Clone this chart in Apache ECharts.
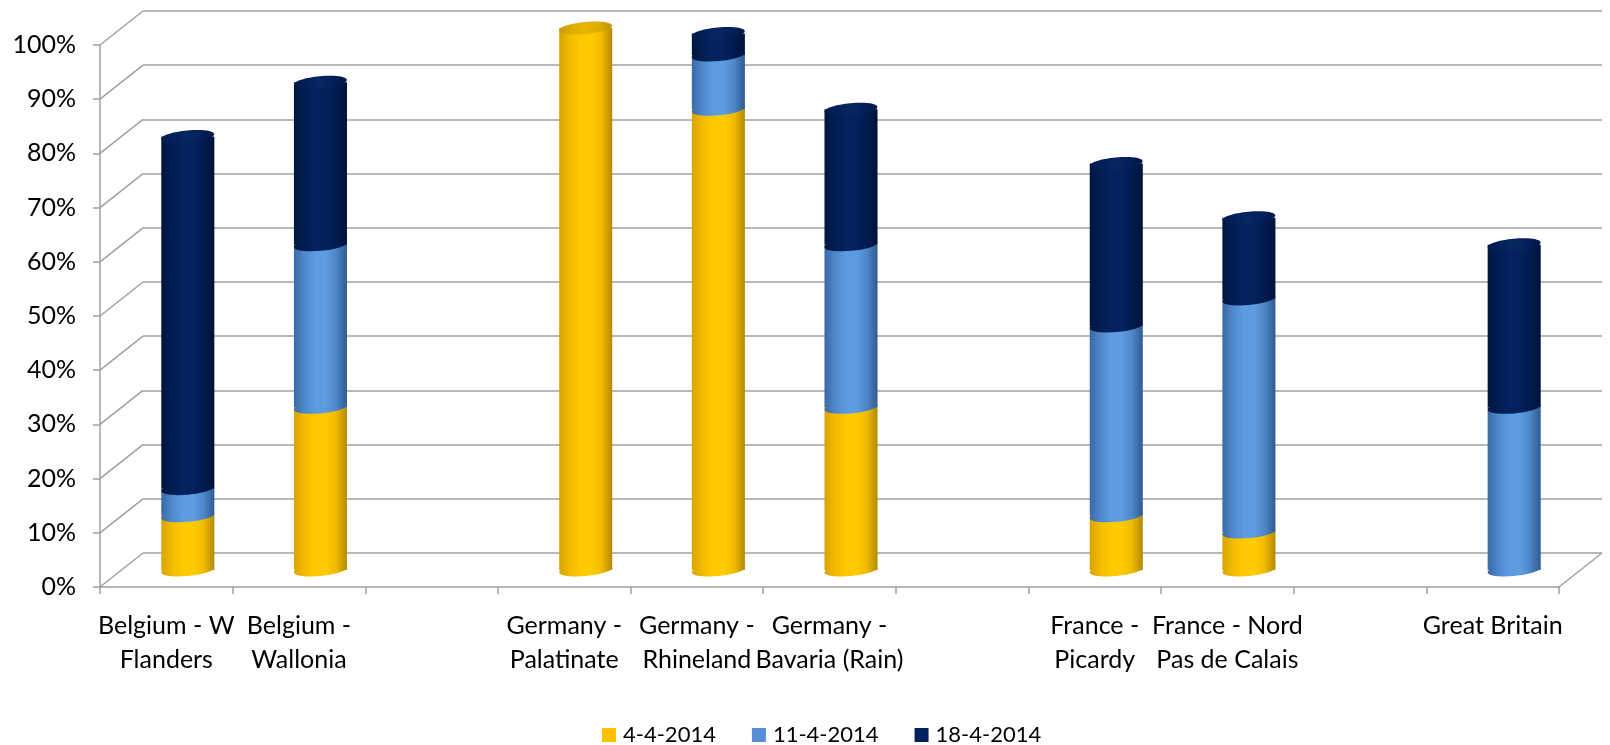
<!DOCTYPE html>
<html>
<head>
<meta charset="utf-8">
<script src="https://cdn.jsdelivr.net/npm/echarts@6/dist/echarts.min.js"></script>
<style>
  html, body { margin: 0; padding: 0; background: #fff; }
  #chart { width: 1610px; height: 745px; }
</style>
</head>
<body>
<div id="chart"></div>
<script>
// categories (empty slots are gaps between countries)
var categories = [
    'Belgium - W\nFlanders', 'Belgium -\nWallonia', '',
    'Germany -\nPalatinate', 'Germany -\nRhineland', 'Germany -\nBavaria (Rain)', '',
    'France -\nPicardy', 'France - Nord\nPas de Calais', '',
    'Great Britain'
];
var seriesNames = ['4-4-2014', '11-4-2014', '18-4-2014'];
var values4Apr = [10, 30, 0, 100, 85, 30, 0, 10, 7, 0, 0];
var values11Apr = [5, 30, 0, 0, 10, 30, 0, 35, 43, 0, 30];
var values18Apr = [65, 30, 0, 0, 4, 25, 0, 30, 15, 0, 30];
var yTicks = [0, 10, 20, 30, 40, 50, 60, 70, 80, 90, 100];

var stacks = [values4Apr, values11Apr, values18Apr];

// 3d depth offset between front axis and back wall
var DX = 43, DY = 34;
var GRID_W = 1459, GRID_H = 542;
var gridColor = '#A0A0A0';
var font = 'Lato, "Liberation Sans", sans-serif';

function grad(stops) {
    return new echarts.graphic.LinearGradient(0, 0, 1, 0, stops.map(function (c, i) {
        return { offset: i / (stops.length - 1), color: c };
    }));
}

var bodyColors = [
    ['#D9A300', '#F2BC00', '#FFC800', '#FFCB00', '#F0BA00', '#B38900'],
    ['#3A69A6', '#4F88CC', '#5C9BE0', '#5D9CE0', '#4E86C8', '#2F5B92'],
    ['#00163F', '#011D52', '#03225F', '#03215C', '#011B4E', '#00123A']
];
var capColors = [
    ['#C89800', '#E0AE00', '#E8B600', '#DCAA00', '#C49500'],
    ['#4677B8', '#5A92D6', '#5E98DA', '#5289CC', '#3F6EAA'],
    ['#001A4C', '#03215C', '#062662', '#03205A', '#001848']
];
var flatColors = ['#FFC000', '#558ED5', '#002060'];

function cylinder(k) {
    return function (params, api) {
        var i = api.value(0);
        var v = api.value(1);
        if (!v) return;
        var base = 0;
        for (var j = 0; j < k; j++) base += stacks[j][i];
        var isTop = true;
        for (var j2 = k + 1; j2 < stacks.length; j2++) if (stacks[j2][i]) isTop = false;
        var pBase = api.coord([i, base]);
        var pTop = api.coord([i, base + v]);
        var rx = api.size([1, 0])[0] * 0.2;
        var ry = 6;
        var tilt = 0.09;
        var cx = pBase[0];
        var children = [
            {
                type: 'ellipse',
                shape: { cx: cx, cy: pBase[1], rx: rx, ry: ry },
                rotation: tilt, originX: cx, originY: pBase[1],
                style: { fill: grad(bodyColors[k]) },
                z2: k * 10
            },
            {
                type: 'rect',
                shape: { x: cx - rx, y: pTop[1], width: rx * 2, height: pBase[1] - pTop[1] },
                style: { fill: grad(bodyColors[k]) },
                z2: k * 10 + 1
            }
        ];
        if (isTop) {
            children.push({
                type: 'ellipse',
                shape: { cx: cx, cy: pTop[1], rx: rx, ry: ry },
                rotation: tilt, originX: cx, originY: pTop[1],
                style: { fill: grad(capColors[k]) },
                z2: k * 10 + 2
            });
        }
        return { type: 'group', children: children };
    };
}

// diagonal lines joining the front axis with the back wall
function walls(params, api) {
    var v = api.value(1);
    var cs = params.coordSys;
    var y = api.coord([0, v])[1];
    var lines = [{
        type: 'line',
        shape: { x1: cs.x, y1: y, x2: cs.x + DX, y2: y - DY },
        style: { stroke: gridColor, lineWidth: 1.5 }
    }];
    if (v === 0) {
        lines.push({
            type: 'line',
            shape: { x1: cs.x + cs.width, y1: y, x2: cs.x + cs.width + DX, y2: y - DY },
            style: { stroke: gridColor, lineWidth: 1.5 }
        });
    }
    return { type: 'group', children: lines };
}

var chart = echarts.init(document.getElementById('chart'));

var option = {
    animation: false,
    backgroundColor: '#fff',
    legend: {
        data: seriesNames,
        top: 719,
        left: 597,
        icon: 'rect',
        itemWidth: 14,
        itemHeight: 14,
        itemGap: 36,
        textStyle: { fontFamily: font, fontSize: 22, color: '#000', padding: [0, 0, 0, 2] }
    },
    grid: [
        // front
        { left: 100, top: 45, width: GRID_W, height: GRID_H },
        // back wall
        { left: 100 + DX, top: 45 - DY, width: GRID_W, height: GRID_H },
        // bars at mid depth
        { left: 100 + DX / 2, top: 45 - DY / 2, width: GRID_W, height: GRID_H }
    ],
    xAxis: [
        {
            gridIndex: 0,
            type: 'category',
            data: categories,
            axisLine: { lineStyle: { color: gridColor, width: 1.5 } },
            axisTick: { show: true, interval: 0, length: 7, lineStyle: { color: gridColor, width: 1.5 } },
            axisLabel: {
                interval: 0,
                margin: 22,
                fontFamily: font,
                fontSize: 25,
                lineHeight: 34,
                color: '#000'
            }
        },
        { gridIndex: 1, type: 'category', data: categories, show: false },
        { gridIndex: 2, type: 'category', data: categories, show: false }
    ],
    yAxis: [
        {
            gridIndex: 0,
            type: 'value',
            min: 0, max: 100, interval: 10,
            axisLine: { show: true, lineStyle: { color: gridColor, width: 1.5 } },
            axisTick: { show: true, length: 7, lineStyle: { color: gridColor, width: 1.5 } },
            splitLine: { show: false },
            axisLabel: {
                formatter: '{value}%',
                margin: 24,
                fontFamily: font,
                fontSize: 25,
                color: '#000'
            }
        },
        {
            gridIndex: 1,
            type: 'value',
            min: 0, max: 100, interval: 10,
            axisLine: { show: false },
            axisTick: { show: false },
            axisLabel: { show: false },
            splitLine: { show: true, lineStyle: { color: gridColor, width: 1.5 } }
        },
        {
            gridIndex: 2,
            type: 'value',
            min: 0, max: 100, interval: 10,
            show: false,
            splitLine: { show: false }
        }
    ],
    series: [
        {
            type: 'custom',
            xAxisIndex: 0, yAxisIndex: 0,
            renderItem: walls,
            data: yTicks.map(function (t) { return [0, t]; }),
            silent: true
        }
    ].concat(seriesNames.map(function (name, k) {
        return {
            name: name,
            type: 'custom',
            xAxisIndex: 2, yAxisIndex: 2,
            itemStyle: { color: flatColors[k] },
            renderItem: cylinder(k),
            data: stacks[k].map(function (v, i) { return [i, v]; }),
            z: 3 + k
        };
    }))
};

chart.setOption(option);
</script>
</body>
</html>
